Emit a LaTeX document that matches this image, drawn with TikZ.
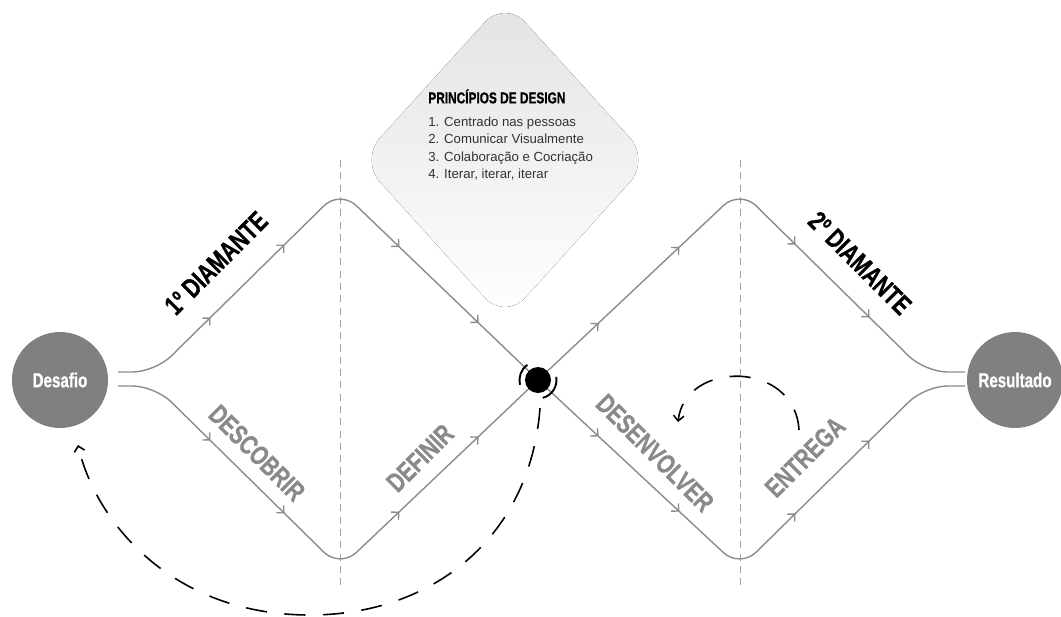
\documentclass[tikz,border=0pt]{standalone}
\usepackage{fontspec}
\setmainfont{Liberation Sans}
\newfontfamily\narrowfont[FakeStretch=0.75, FakeBold=0.8]{Liberation Sans}
\usetikzlibrary{arrows.meta,decorations.markings}

\definecolor{linegray}{HTML}{8C8C8C}
\definecolor{circgray}{HTML}{808080}
\definecolor{phasegray}{HTML}{8A8A8A}

\tikzset{
    % Define standard arrow tip
    >={Straight Barb[length=3pt,width=6pt]},
    % the two diamond paths
    flow/.style={
           draw=linegray,
           line width=0.8pt,
           rounded corners=0.45cm},
    % two tips along each side
    ticks/.style={
           decoration={markings,
              mark=at position 0.3 with {\arrow[linegray,line width=0.8pt]{>}},
              mark=at position 0.7 with {\arrow[linegray,line width=0.8pt]{>}}},
           postaction={decorate}},
    guide/.style={draw=linegray!80, line width=0.5pt, dash pattern=on 4pt off 3pt},
    loopback/.style={draw=black, line width=0.9pt, dash pattern=on 12pt off 10pt, ->},
    endpoint/.style={circle, fill=circgray, minimum size=1.92cm, inner sep=0pt,
           text=white, font=\narrowfont\bfseries\fontsize{11.5}{13}\selectfont},
    stage/.style={text=black, font=\narrowfont\bfseries\fontsize{15.5}{17}\selectfont},
    phase/.style={text=phasegray, font=\narrowfont\bfseries\fontsize{15.5}{17}\selectfont}
}

\begin{document}
\begin{tikzpicture}[x=0.02cm, y=-0.02cm]
\useasboundingbox (0,0) rectangle (1061,616);

% principles card
\fill[top color=black!11, bottom color=white, rounded corners=0.6cm]
    (505,0) -- (650,160) -- (505,320) -- (360,160) -- cycle;
\node[anchor=north west, align=left, inner sep=0pt, text=black!80,
      font=\fontsize{7.5}{10}\selectfont] (principios) at (428,89)
    {{\narrowfont\bfseries\fontsize{9}{10}\selectfont\color{black} PRINCÍPIOS DE DESIGN}\\[3pt]
     1. Centrado nas pessoas\\
     2. Comunicar Visualmente\\
     3. Colaboração e Cocriação\\
     4. Iterar, iterar, iterar};

% dashed guides
\draw[guide] (340,160) -- (340,588);
\draw[guide] (740,160) -- (740,588);

% end points
\node[endpoint] (desafio) at (60,380) {Desafio};
\node[endpoint] (resultado) at (1015,380) {Resultado};

% corners of the diamonds
\coordinate (s1) at (118,372);
\coordinate (s2) at (118,386);
\coordinate (k1) at (155,372);
\coordinate (k2) at (155,386);
\coordinate (t1) at (340,190);
\coordinate (b1) at (340,568);
\coordinate (m) at (538,380);
\coordinate (t2) at (740,190);
\coordinate (b2) at (740,568);
\coordinate (r1) at (925,372);
\coordinate (r2) at (925,386);
\coordinate (e1) at (965,372);
\coordinate (e2) at (965,386);

\draw[flow] (s1) -- (k1) -- (t1) -- (m) -- (b2) -- (r2) -- (e2);
\draw[flow] (s2) -- (k2) -- (b1) -- (m) -- (t2) -- (r1) -- (e1);

\foreach \a/\b in {k1/t1, t1/m, m/b2, b2/r2, k2/b1, b1/m, m/t2, t2/r1}
    \path[ticks] (\a) -- (\b);

% meeting point
\node[circle, fill=black, minimum size=0.52cm, inner sep=0pt] (meio) at (m) {};
\draw[line width=1.1pt] (meio.center) ++(125:0.37cm) arc[start angle=125, end angle=195, radius=0.37cm];
\draw[line width=1.1pt] (meio.center) ++(10:0.37cm) arc[start angle=10, end angle=-75, radius=0.37cm];

% labels
\node[stage, rotate=45] (d1) at (216,263) {1º DIAMANTE};
\node[stage, rotate=-45] (d2) at (860,263) {2º DIAMANTE};
\node[phase, rotate=-45] (descobrir) at (257,453) {DESCOBRIR};
\node[phase, rotate=45] (definir) at (420,458) {DEFINIR};
\node[phase, rotate=-45] (desenvolver) at (655,453) {DESENVOLVER};
\node[phase, rotate=45] (entrega) at (805,457) {ENTREGA};

% iteration loops
\coordinate (l1) at (540,408);
\coordinate (l2) at (310,615);
\coordinate (l3) at (78,445);
\draw[loopback] (l1) .. controls (530,540) and (430,615) .. (l2)
    .. controls (170,615) and (95,520) .. (l3);
\coordinate (c1) at (799,430);
\coordinate (c2) at (678,422);
\draw[loopback] (c1) .. controls (795,360) and (685,360) .. (c2);
\end{tikzpicture}
\end{document}
